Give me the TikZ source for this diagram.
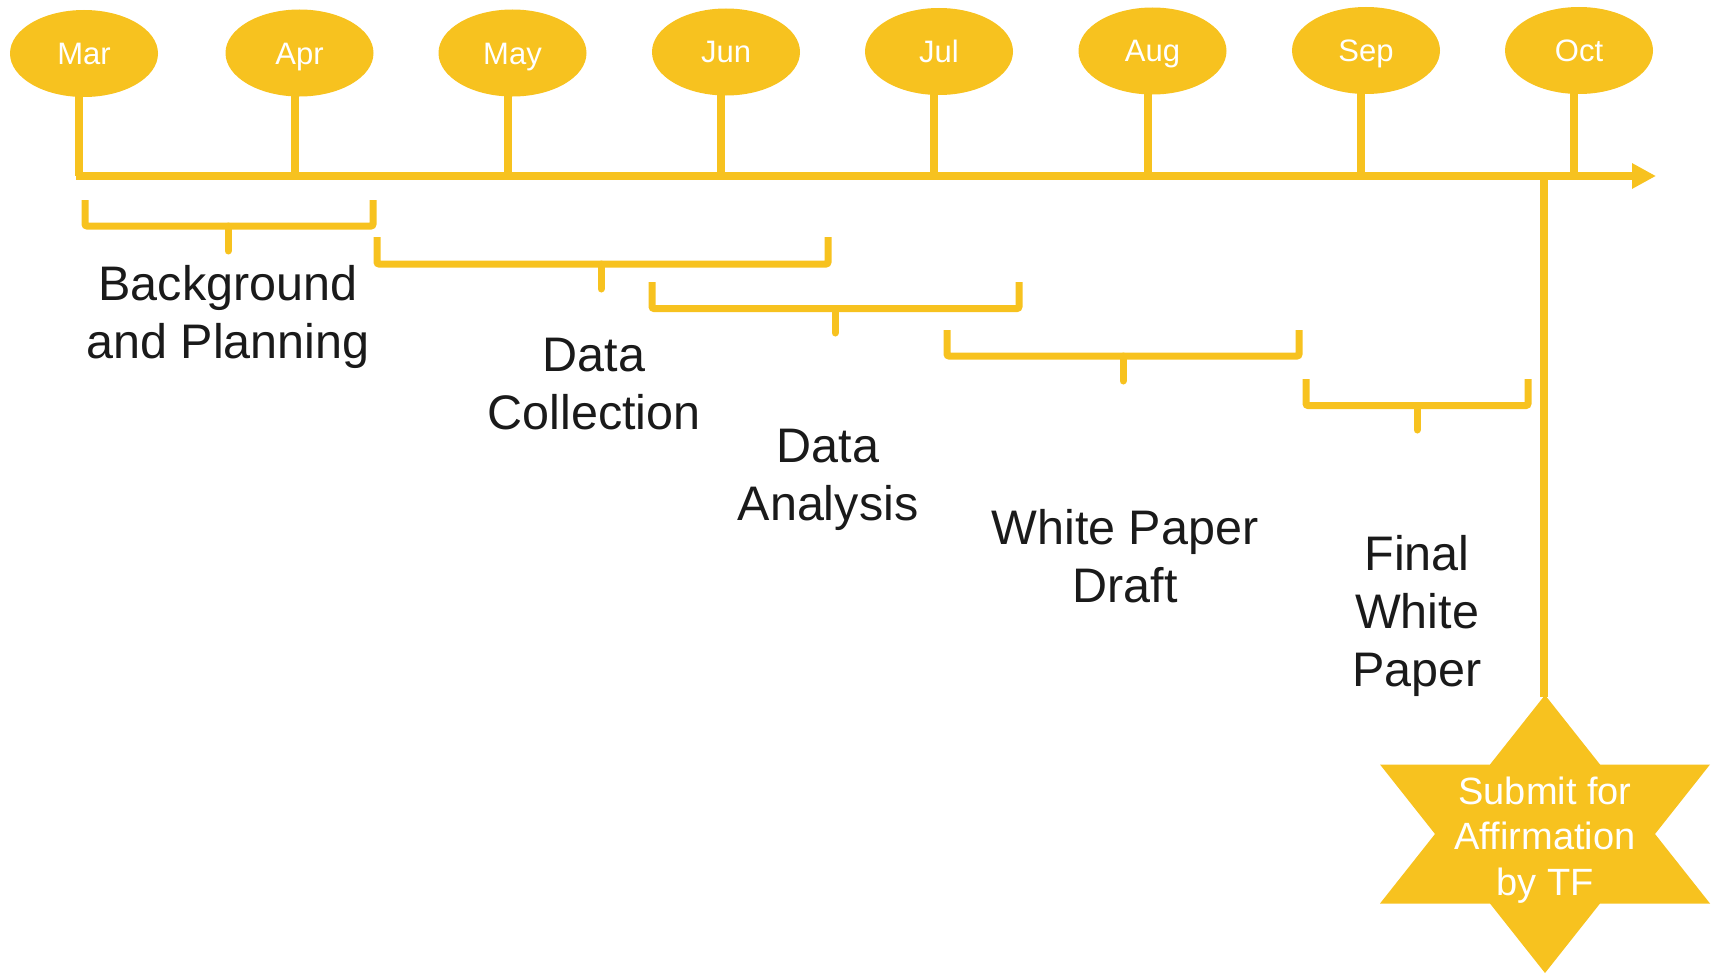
\documentclass[tikz,border=0pt]{standalone}
\usepackage{fontspec}
\setmainfont{Liberation Sans}
\usetikzlibrary{shapes.geometric,arrows.meta}
\definecolor{gold}{RGB}{247,194,31}
\definecolor{ink}{RGB}{26,26,26}
\begin{document}
\begin{tikzpicture}[x=1pt,y=-1pt,
  month/.style={ellipse,fill=gold,minimum width=148pt,minimum height=87pt,inner sep=0pt,text=white,text height=22pt,text depth=0pt,font=\fontsize{31}{37}\selectfont},
  timeline/.style={draw=gold,line width=8pt},
  monthstem/.style={draw=gold,line width=8pt},
  bracebar/.style={draw=gold,line width=7pt,rounded corners=2pt},
  bracetick/.style={draw=gold,line width=7pt,line cap=round},
  phase/.style={text=ink,align=center,font=\fontsize{48.5}{58}\selectfont},
  startext/.style={text=white,align=center,font=\fontsize{38}{45.5}\selectfont}]
\useasboundingbox (0,0) rectangle (1716,974);

% months
\node[month] (mar) at (84,53.5) {Mar};
\node[month] (apr) at (299.5,53) {Apr};
\node[month] (may) at (512.5,53) {May};
\node[month] (jun) at (726,52) {Jun};
\node[month] (jul) at (939,51.5) {Jul};
\node[month] (aug) at (1152.5,51) {Aug};
\node[month] (sep) at (1366,50.5) {Sep};
\node[month] (oct) at (1579,50.5) {Oct};

% timeline
\coordinate (tlstart) at (76,176);
\coordinate (tlend) at (1656,176);
\draw[timeline,-{Triangle[length=24pt,width=24pt]}] (tlstart) -- (tlend);
\foreach \m in {mar,apr,may,jun,jul,aug,sep,oct}
  \draw[monthstem] ([xshift=-5pt,yshift=2pt]\m.south) -- ([xshift=-5pt]\m.south |- tlstart);

% brackets
\draw[bracebar] (85,200) |- (373,226) -- (373,200);
\draw[bracetick] (228,226) -- (228,251);
\draw[bracebar] (377,237) |- (828,264) -- (828,237);
\draw[bracetick] (601,264) -- (601,289);
\draw[bracebar] (652,282) |- (1019,308.5) -- (1019,282);
\draw[bracetick] (835,308.5) -- (835,333);
\draw[bracebar] (947,330) |- (1299,356) -- (1299,330);
\draw[bracetick] (1123,356) -- (1123,381);
\draw[bracebar] (1306,379) |- (1528,405.5) -- (1528,379);
\draw[bracetick] (1417,405.5) -- (1417,430);

% phase labels
\node[phase] (bg) at (228,317) {Background\\and Planning};
\node[phase] (dc) at (594,384) {Data\\Collection};
\node[phase] (da) at (828,480) {Data\\Analysis};
\node[phase] (wp) at (1125,556) {White Paper\\Draft};
\node[phase] (fw) at (1417,616) {Final\\White\\Paper};

% submit star
\coordinate (subtop) at (1544,176);
\coordinate (startop) at (1544,697);
\draw[monthstem] (subtop) -- (startop);
\fill[gold,shift={(1545,834)}] (0,-139) -- (55,-69.5) -- (165,-69.5) -- (110,0) -- (165,69.5) -- (55,69.5) -- (0,139) -- (-55,69.5) -- (-165,69.5) -- (-110,0) -- (-165,-69.5) -- (-55,-69.5) -- cycle;
\node[startext] (star) at (1545,840) {Submit for\\Affirmation\\by TF};
\end{tikzpicture}
\end{document}
